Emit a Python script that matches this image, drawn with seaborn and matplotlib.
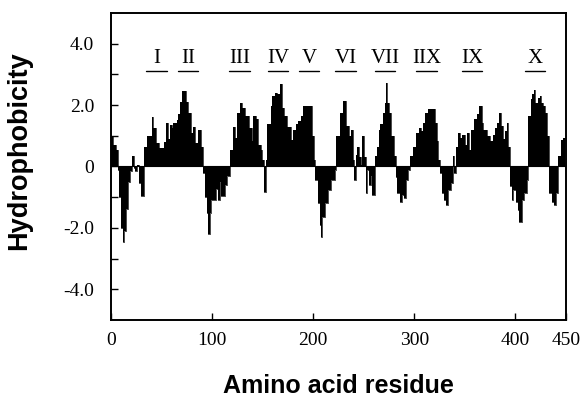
import numpy as np
import pandas as pd
import matplotlib
matplotlib.use("Agg")
import matplotlib.pyplot as plt
import seaborn as sns

# Hydropathy profile: residue where each step starts, and its value
residue = [0, 2, 5, 7, 8, 10, 12, 13, 15, 17, 19, 21, 23, 24, 26, 28, 30,
           33, 36, 41, 42, 45, 47, 52, 54, 56, 58, 60, 61, 65, 66, 68, 70, 74,
           76, 79, 81, 83, 86, 89, 91, 93, 95, 96, 98, 99, 104, 106, 108, 109,
           113, 115, 118, 121, 123, 125, 128, 130, 133, 136, 139, 140, 143, 145,
           148, 149, 151, 153, 154, 158, 159, 162, 164, 167, 169, 171, 174, 178,
           180, 183, 185, 188, 190, 199, 201, 202, 205, 207, 208, 209, 212, 215,
           218, 222, 223, 226, 229, 232, 235, 237, 239, 240, 242, 243, 245, 247,
           248, 250, 252, 253, 255, 257, 258, 261, 263, 265, 266, 269, 271, 272,
           273, 275, 277, 280, 282, 283, 286, 288, 290, 292, 294, 296, 299, 302,
           305, 307, 309, 311, 314, 320, 322, 323, 325, 327, 329, 331, 333, 336,
           338, 339, 341, 343, 345, 347, 350, 352, 354, 356, 359, 362, 364, 367,
           368, 372, 375, 378, 380, 382, 384, 386, 388, 390, 392, 393, 395, 397,
           398, 401, 403, 404, 406, 408, 411, 412, 415, 416, 418, 419, 422, 424,
           425, 427, 429, 431, 433, 436, 438, 440, 442, 445, 447]
hydrophobicity = [1.0, 0.7, 0.55, -0.1, -1.0, -2.0, -2.45, -2.1, -1.4, -0.5,
                  -0.15, 0.35, -0.05, -0.15, 0.05, -0.55, -0.95,
                  0.65, 1.0, 1.6, 1.25, 0.75, 0.6, 0.8, 1.4, 0.9, 1.35, 1.25,
                  1.4, 1.5, 1.7, 2.1, 2.45, 2.1, 1.75, 1.1, 1.3, 0.75, 1.2, 0.65,
                  -0.2, -1.0, -1.5, -2.2, -1.5, -1.1, -0.75, -1.1, -0.5, -0.95,
                  -0.6, -0.3, 0.55, 1.3, 0.93, 1.75, 2.08, 1.9, 1.64, 1.25, 0.82,
                  1.64, 1.53, 0.7, 0.55, 0.2, -0.82, 0.2, 1.37, 1.97, 2.3, 2.4,
                  2.35, 2.68, 1.9, 1.64, 1.3, 0.87, 1.2, 1.37, 1.48, 1.64, 1.97,
                  0.98, 0.2, -0.44, -1.2, -1.9, -2.3, -1.64, -1.2, -0.77, -0.44,
                  -0.1, 0.98, 1.75, 2.13, 1.31, 0.98, 1.2, 0.22, -0.44, 0.38, 0.65,
                  0.3, 0.05, 0.98, 0.3, -0.87, -0.1, -0.6, -0.3, -0.93, 0.33, 0.65,
                  1.2, 1.37, 1.75, 2.08, 2.73, 2.08, 1.75, 0.98, 0.33, -0.33, -0.87,
                  -1.15, -0.93, -1.04, -0.44, -0.1, 0.33, 0.65, 1.1, 1.25, 1.15,
                  1.42, 1.75, 1.86, 1.42, 0.82, 0.22, -0.22, -0.87, -1.1, -1.26,
                  -0.77, -0.55, 0.33, -0.22, 0.65, 1.1, 0.93, 1.04, 0.71, 1.1, 0.55,
                  1.2, 1.53, 1.7, 1.97, 1.42, 1.2, 0.98, 0.82, 1.04, 1.26, 1.42,
                  1.75, 1.31, 0.9, 1.15, 1.42, 0.65, -0.65, -1.1, -0.77, -1.15,
                  -1.42, -1.8, -1.1, -0.87, -0.44, 1.64, 2.19, 2.35, 2.5, 2.08,
                  2.24, 2.3, 2.08, 1.97, 1.75, 0.98, -0.87, -1.15, -1.26, -0.87,
                  0.33, 0.87, 0.93]
last_residue = 449

# Transmembrane segment labels and the residue centre of each bar
segment_labels = ["I", "II", "III", "IV", "V", "VI", "VII", "IIX", "IX", "X"]
segment_centres = [45, 76, 127, 165, 196, 232, 271, 312, 357, 419]
segment_halfwidth = 10

x_ticks = [0, 100, 200, 300, 400, 450]
y_ticks = [4, 2, 0, -2, -4]
y_tick_labels = ["4.0", "2.0", "0", "-2.0", "-4.0"]

df = pd.DataFrame({"residue": residue + [last_residue],
                   "hydrophobicity": hydrophobicity + [hydrophobicity[-1]]})

sns.set_theme(style="ticks")
plt.rcParams["font.family"] = ["Liberation Serif", "DejaVu Serif"]
plt.rcParams["text.color"] = "black"
plt.rcParams["axes.labelcolor"] = "black"

fig = plt.figure(figsize=(5.82, 4.05), dpi=100)
ax = fig.add_axes([0.1907, 0.210, 0.7818, 0.758])

sns.lineplot(data=df, x="residue", y="hydrophobicity", ax=ax,
             drawstyle="steps-post", color="black", linewidth=0.5)
ax.fill_between(df["residue"], 0, df["hydrophobicity"], step="post",
                color="black", linewidth=0)
ax.axhline(0, color="black", linewidth=0.8)

# segment labels with underline
for lab, c in zip(segment_labels, segment_centres):
    ax.text(c, 3.38, lab, ha="center", va="baseline", fontsize=15,
            family="Liberation Serif", color="black")
    ax.plot([c - segment_halfwidth, c + segment_halfwidth], [3.1, 3.1],
            color="black", linewidth=1.0)

ax.set_xlim(0, 450)
ax.set_ylim(-5, 5)
ax.set_xticks(x_ticks)
ax.set_xticklabels([str(t) for t in x_ticks])
ax.set_yticks(y_ticks)
ax.set_yticklabels(y_tick_labels)
ax.set_yticks([3, 1, -1, -3], minor=True)
ax.tick_params(axis="both", which="both", direction="in", length=5, width=1,
               labelsize=14, colors="black")
ax.tick_params(axis="x", pad=9)
ax.tick_params(axis="y", pad=12)

for sp in ax.spines.values():
    sp.set_visible(True)
    sp.set_linewidth(1.4)
    sp.set_color("black")

ax.set_xlabel("Amino acid residue", fontsize=18, fontweight="bold",
              family="Liberation Sans", labelpad=18, color="black")
ax.set_ylabel("Hydrophobicity", fontsize=19.5, fontweight="bold",
              family="Liberation Sans", color="black")
ax.yaxis.set_label_coords(-0.174, 0.55)

fig.savefig("out.png", dpi=100, facecolor="white")
